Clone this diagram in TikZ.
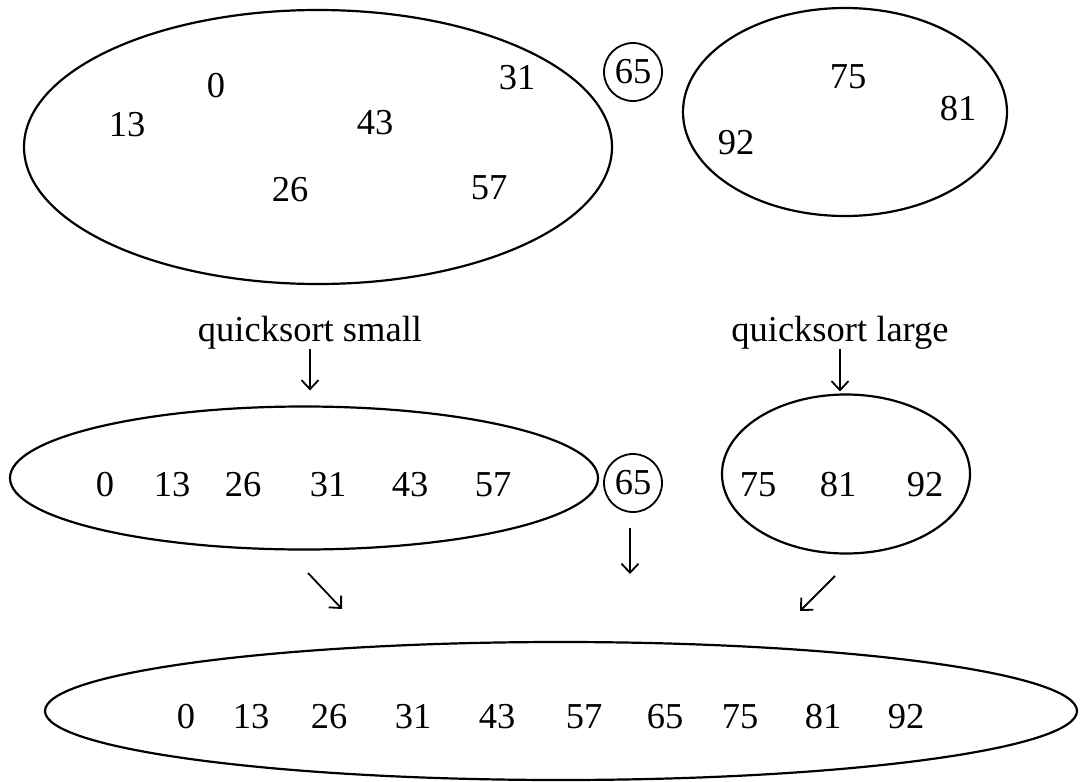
\documentclass[tikz,border=0pt]{standalone}
\usepackage{fontspec}
\setmainfont{Liberation Serif}
\usetikzlibrary{shapes.geometric,arrows.meta}
\newcommand\numfont{\fontsize{36.5}{40}\selectfont}
\tikzset{
  set/.style={draw, ellipse, line width=2.2pt, inner sep=0pt},
  num/.style={inner sep=0pt, font=\numfont},
  pivot/.style={draw, circle, line width=1.8pt, minimum size=58pt, inner sep=0pt, font=\numfont},
  lbl/.style={inner sep=0pt, font=\numfont, anchor=base},
  arr/.style={-{Straight Barb[length=9pt,width=17pt,line width=1.8pt]}, line width=1.8pt}
}
\begin{document}
\begin{tikzpicture}[x=1pt, y=-1pt]
\useasboundingbox (0,0) rectangle (1080,782);
\fill[white] (0,0) rectangle (1080,782);

% ---- partition around the pivot ----
\node[set, minimum width=588pt, minimum height=274pt] (small) at (318,147) {};
\node[set, minimum width=324pt, minimum height=208pt] (large) at (845,112) {};
\node[pivot] (p1) at (633,72) {65};

\node[num] (s0)  at (216,86)  {0};
\node[num] (s13) at (127,125) {13};
\node[num] (s43) at (375,123) {43};
\node[num] (s31) at (517,78)  {31};
\node[num] (s26) at (290,190) {26};
\node[num] (s57) at (489,188) {57};

\node[num] (l75) at (848,77)  {75};
\node[num] (l81) at (958,109) {81};
\node[num] (l92) at (736,143) {92};

% ---- recursive calls ----
\node[lbl] (qs) at (310,341) {quicksort small};
\node[lbl] (ql) at (840,341) {quicksort large};

% ---- sorted halves ----
\node[set, minimum width=588pt, minimum height=143pt] (midL) at (304,478) {};
\node[set, minimum width=248pt, minimum height=159pt] (midR) at (846,474) {};
\node[pivot] (p2) at (633,483) {65};

\node[num] (m0)  at (105,485) {0};
\node[num] (m13) at (172,485) {13};
\node[num] (m26) at (243,485) {26};
\node[num] (m31) at (328,485) {31};
\node[num] (m43) at (410,485) {43};
\node[num] (m57) at (493,485) {57};

\node[num] (r75) at (758,485) {75};
\node[num] (r81) at (838,485) {81};
\node[num] (r92) at (925,485) {92};

\draw[arr, shorten >=15pt] (qs.south) -- (qs.south |- midL.north);
\draw[arr, shorten >=2pt] (ql.south) -- (ql.south |- midR.north);

% ---- merged result ----
\node[set, minimum width=1032pt, minimum height=138pt] (all) at (561,711) {};
\foreach \v/\x in {0/186,13/251,26/329,31/413,43/497,57/584,65/665,75/740,81/823,92/906}
  \node[num] (a\v) at (\x,717) {\v};

\coordinate (seS) at (308,573);
\coordinate (seE) at (342,609);
\coordinate (dnE) at (630,574);
\coordinate (swS) at (835,576);
\coordinate (swE) at (800,611);
\draw[arr] (seS) -- (seE);
\draw[arr, shorten <=15pt] (p2.south -| dnE) -- (dnE);
\draw[arr] (swS) -- (swE);
\end{tikzpicture}
\end{document}
